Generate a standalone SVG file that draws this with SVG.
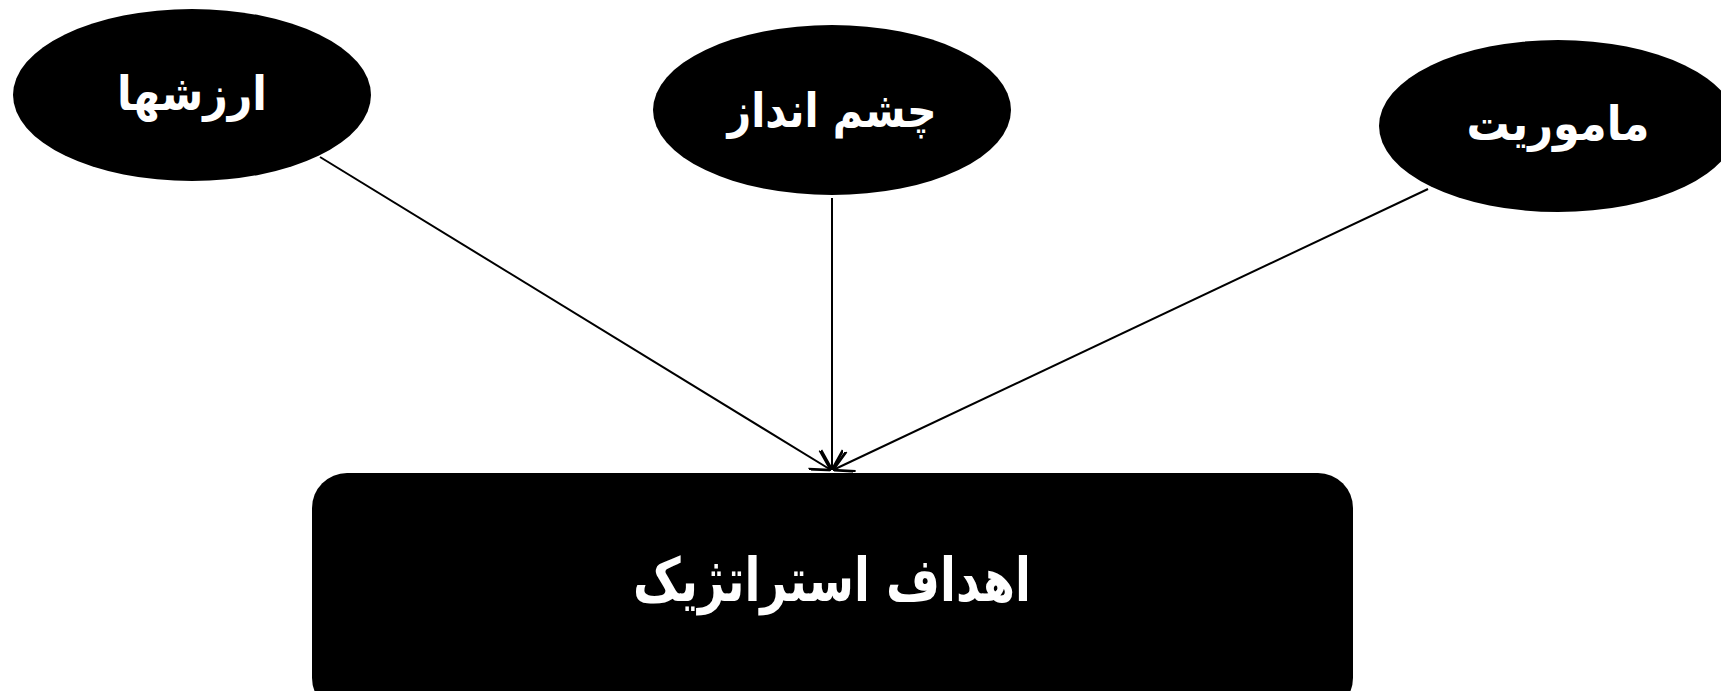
<svg xmlns="http://www.w3.org/2000/svg" width="1721" height="691" viewBox="0 0 1721 691">
<style>
.node{fill:#000}
.lbl{fill:#fff;font-family:"DejaVu Sans","Noto Sans",sans-serif;font-weight:bold;text-anchor:middle;direction:rtl}
.edge{stroke:#000;stroke-width:2;fill:none;marker-end:url(#arr)}
</style>
<defs>
<marker id="arr" viewBox="0 0 20 20" refX="20" refY="10" markerWidth="22" markerHeight="22" markerUnits="userSpaceOnUse" orient="auto">
<path d="M2,0 L20,10 L2,20" fill="none" stroke="#000" stroke-width="2.5"/>
</marker>
</defs>
<rect width="1721" height="691" fill="#fff"/>
<g id="edges">
<line class="edge" x1="320" y1="157" x2="831" y2="470"/>
<line class="edge" x1="832" y1="198" x2="832" y2="470"/>
<line class="edge" x1="1428" y1="189" x2="833" y2="470"/>
</g>
<g id="n-values">
<ellipse class="node" cx="192" cy="95" rx="179" ry="86"/>
<text class="lbl" x="192" y="110" font-size="48" textLength="150" lengthAdjust="spacingAndGlyphs">ارزشها</text>
</g>
<g id="n-vision">
<ellipse class="node" cx="832" cy="110" rx="179" ry="85"/>
<text class="lbl" x="832" y="127" font-size="48" textLength="209" lengthAdjust="spacingAndGlyphs">چشم انداز</text>
</g>
<g id="n-mission">
<ellipse class="node" cx="1558" cy="126" rx="179" ry="86"/>
<text class="lbl" x="1558" y="140" font-size="48" textLength="183" lengthAdjust="spacingAndGlyphs">ماموریت</text>
</g>
<g id="n-goals">
<rect class="node" x="312" y="473" width="1041" height="240" rx="35" ry="35"/>
<text class="lbl" x="832" y="601" font-size="60" textLength="398" lengthAdjust="spacingAndGlyphs">اهداف استراتژیک</text>
</g>
</svg>
